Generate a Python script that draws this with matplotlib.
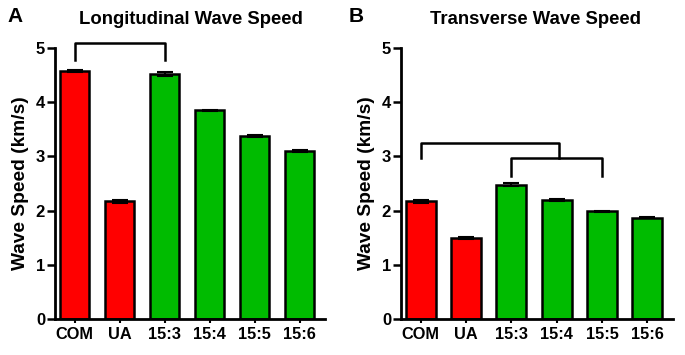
import numpy as np
import matplotlib as mpl
mpl.use('Agg')
import matplotlib.pyplot as plt

mpl.rcParams['font.family'] = ['Liberation Sans', 'DejaVu Sans']
mpl.rcParams['font.weight'] = 'bold'

# Data
groups = ['COM', 'UA', '15:3', '15:4', '15:5', '15:6']
long_speed = [4.57, 2.17, 4.52, 3.85, 3.37, 3.10]
long_err = [0.02, 0.03, 0.03, 0.015, 0.02, 0.02]
trans_speed = [2.17, 1.50, 2.48, 2.20, 1.99, 1.87]
trans_err = [0.025, 0.02, 0.02, 0.015, 0.01, 0.015]
bar_colors = ['#ff0000', '#ff0000', '#00bb00', '#00bb00', '#00bb00', '#00bb00']


def draw_panel(ax, vals, errs):
    x = np.arange(len(groups))
    ax.bar(x, vals, width=0.66, color=bar_colors, edgecolor='black', linewidth=1.8, zorder=2)
    ax.errorbar(x, vals, yerr=errs, fmt='none', ecolor='black', elinewidth=1.5,
                capsize=6, capthick=1.5, zorder=3)
    ax.set_xlim(-0.44, 5.56)
    ax.set_ylim(0, 5)
    ax.set_yticks([0, 1, 2, 3, 4, 5])
    ax.set_xticks(x)
    ax.set_xticklabels(groups, fontsize=11.8, fontweight='bold')
    ax.tick_params(axis='y', labelsize=12, width=1.8, length=6, direction='out', pad=1)
    ax.tick_params(axis='x', width=1.5, length=3, direction='out', pad=3)
    for lab in ax.get_yticklabels():
        lab.set_fontweight('bold')
    for s in ['top', 'right']:
        ax.spines[s].set_visible(False)
    for s in ['left', 'bottom']:
        ax.spines[s].set_linewidth(2)
    ax.set_ylabel('Wave Speed (km/s)', fontsize=13.8, fontweight='bold', labelpad=5)


def bracket(ax, x1, x2, ytop, yend):
    ax.plot([x1, x1, x2, x2], [yend, ytop, ytop, yend], color='black', lw=1.8,
            clip_on=False, zorder=4)


fig = plt.figure(figsize=(6.85, 3.55), dpi=100)
axA = fig.add_axes([0.080, 0.1014, 0.394, 0.7634])
axB = fig.add_axes([0.585, 0.1014, 0.397, 0.7634])

draw_panel(axA, long_speed, long_err)
draw_panel(axB, trans_speed, trans_err)

# titles and panel letters
fig.text(191 / 685, 1 - 19 / 355, 'Longitudinal Wave Speed', fontsize=13.3,
         fontweight='bold', ha='center', va='center')
fig.text(536 / 685, 1 - 19 / 355, 'Transverse Wave Speed', fontsize=13.3,
         fontweight='bold', ha='center', va='center')
fig.text(7 / 685, 1 - 16 / 355, 'A', fontsize=15, fontweight='bold', ha='left', va='center')
fig.text(349 / 685, 1 - 16 / 355, 'B', fontsize=15, fontweight='bold', ha='left', va='center')

# significance brackets
bracket(axA, 0, 2, 5.09, 4.78)
bracket(axB, 2, 4, 2.97, 2.64)
axB.plot([0, 0, 3.05, 3.05], [2.97, 3.25, 3.25, 2.97], color='black', lw=1.8, zorder=4)

fig.savefig('out.png', dpi=100)
